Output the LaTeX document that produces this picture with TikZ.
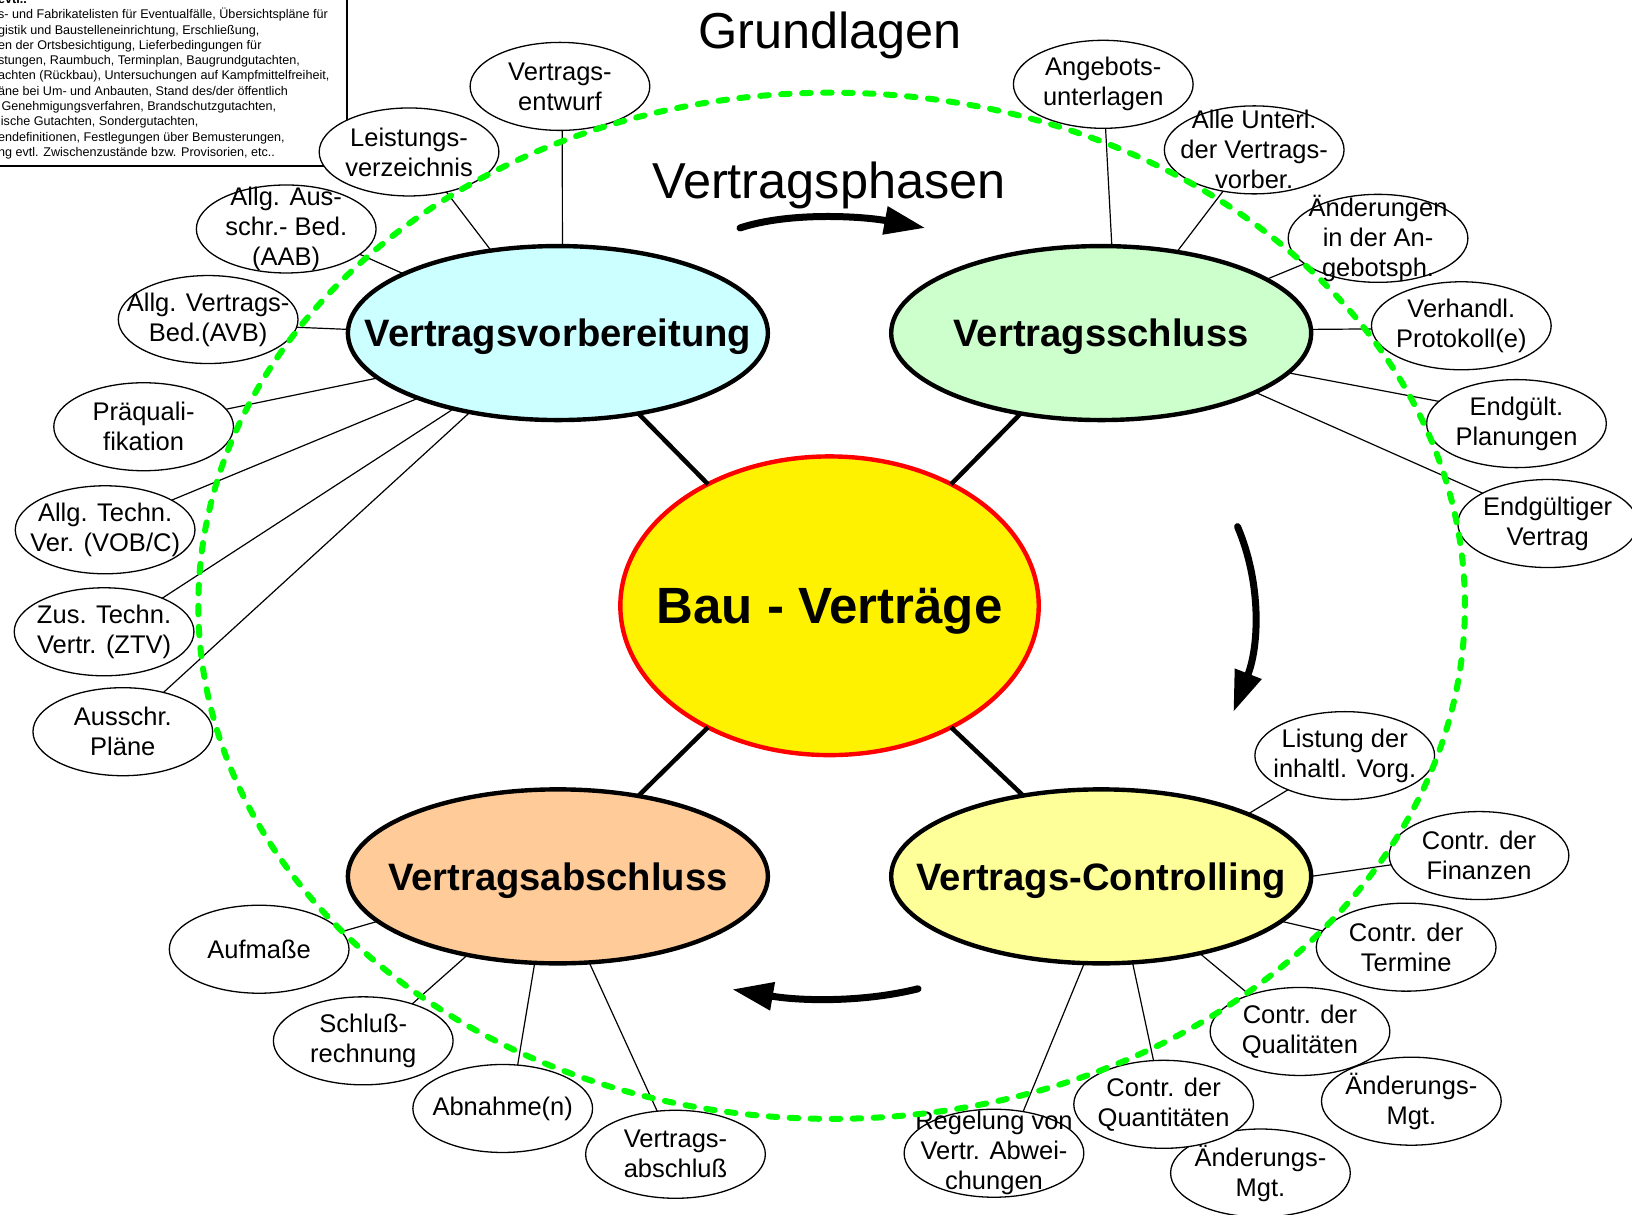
\documentclass[tikz,border=0pt]{standalone}
\usepackage{fontspec}
\setmainfont{Liberation Sans}
\usetikzlibrary{arrows.meta,shapes.geometric}
\definecolor{cvv}{HTML}{CCFFFF}
\definecolor{cvs}{HTML}{CCFFCC}
\definecolor{cva}{HTML}{FFCC99}
\definecolor{cvc}{HTML}{FFFF99}
\definecolor{ringgreen}{HTML}{00FF00}
\tikzset{
  sub/.style={ellipse, draw, fill=white, line width=1.3pt, minimum width=179.7pt, minimum height=88pt,
    inner sep=-22pt, outer sep=0pt, align=center, font=\fontsize{25.5pt}{30pt}\selectfont},
  phase/.style={ellipse, draw, line width=4.4pt, minimum width=420pt, minimum height=174pt,
    inner sep=-60pt, outer sep=0pt, text depth=0pt, font=\bfseries\fontsize{38.2pt}{44pt}\selectfont},
  core/.style={ellipse, draw=red, fill=yellow, line width=4.4pt, minimum width=418.4pt, minimum height=298.7pt,
    inner sep=-60pt, outer sep=0pt, text depth=0pt, font=\bfseries\fontsize{51pt}{60pt}\selectfont},
  link/.style={line width=1.2pt},
  spoke/.style={line width=4.5pt},
  flow/.style={line width=7pt, line cap=round, -{Triangle[length=41pt,width=27pt]}},
  dashring/.style={draw=ringgreen, line width=6pt, dash pattern=on 8.5pt off 12.5pt, line cap=round},
  title/.style={font=\fontsize{50.5pt}{60pt}\selectfont, inner sep=0pt},
  notebox/.style={anchor=north west, align=left, inner sep=0pt, font=\fontsize{12.6pt}{15.3pt}\selectfont},
}
\begin{document}
\begin{tikzpicture}[x=1.0408pt,y=-1.0408pt]
\useasboundingbox (0,0) rectangle (1568,1167);

% note box (cut by the picture edge)
\draw[line width=1.8pt, fill=white] (-20,-20) rectangle (333.5,159.5);
\node[notebox] (note) at (-2,-5.7) {\textbf{evtl..}\\
s- und Fabrikatelisten für Eventualfälle, Übersichtspläne für\\
gistik und Baustelleneinrichtung, Erschließung,\\
en der Ortsbesichtigung, Lieferbedingungen für\\
stungen, Raumbuch, Terminplan, Baugrundgutachten,\\
achten (Rückbau), Untersuchungen auf Kampfmittelfreiheit,\\
äne bei Um- und Anbauten, Stand des/der öffentlich\\
\hspace*{3.5pt}Genehmigungsverfahren, Brandschutzgutachten,\\
lische Gutachten, Sondergutachten,\\
endefinitionen, Festlegungen über Bemusterungen,\\
ng evtl. Zwischenzustände bzw. Provisorien, etc..};

% titles
\node[title, anchor=base] (grund) at (797.5,46.4) {Grundlagen};
\node[title, anchor=base] (phasen) at (796.5,190.6) {Vertragsphasen};

% main phases
\node[phase, fill=cvv] (VV) at (536,320) {Vertragsvorbereitung};
\node[phase, fill=cvs] (VS) at (1058,320) {Vertragsschluss};
\node[phase, fill=cva] (VA) at (536,842) {Vertragsabschluss};
\node[phase, fill=cvc] (VC) at (1058,842) {Vertrags-Controlling};
\node[core] (CC) at (797,582) {Bau - Verträge};

% sub items: Vertragsvorbereitung
\node[sub] (VE) at (538,83) {Vertrags-\\entwurf};
\node[sub] (LV) at (393,146) {Leistungs-\\verzeichnis};
\node[sub] (AAB) at (275,220) {Allg. Aus-\\schr.- Bed.\\(AAB)};
\node[sub] (AVB) at (200,307) {Allg. Vertrags-\\Bed.(AVB)};
\node[sub] (PQ) at (138,410) {Präquali-\\fikation};
\node[sub] (VOB) at (101,509) {Allg. Techn.\\Ver. (VOB/C)};
\node[sub] (ZTV) at (100,607) {Zus. Techn.\\Vertr. (ZTV)};
\node[sub] (AP) at (118,703) {Ausschr.\\Pläne};

% sub items: Vertragsschluss
\node[sub] (AU) at (1060,81) {Angebots-\\unterlagen};
\node[sub] (AUV) at (1205,144) {Alle Unterl.\\der Vertrags-\\vorber.};
\node[sub] (AAG) at (1324,229) {Änderungen\\in der An-\\gebotsph.};
\node[sub] (VP) at (1404,313) {Verhandl.\\Protokoll(e)};
\node[sub] (EP) at (1457,407) {Endgült.\\Planungen};
\node[sub] (EV) at (1487,503) {Endgültiger\\Vertrag};

% sub items: Vertrags-Controlling
\node[sub] (LI) at (1292,726) {Listung der\\inhaltl. Vorg.};
\node[sub] (FI) at (1421,822) {Contr. der\\Finanzen};
\node[sub] (TE) at (1351,910) {Contr. der\\Termine};
\node[sub] (AMR) at (1356,1058) {Änderungs-\\Mgt.};
\node[sub] (QL) at (1249,991) {Contr. der\\Qualitäten};
\node[sub] (AMB) at (1211,1127) {Änderungs-\\Mgt.};
\node[sub] (RG) at (955,1108) {Regelung von\\Vertr. Abwei-\\chungen};
\node[sub] (QN) at (1118,1061) {Contr. der\\Quantitäten};

% sub items: Vertragsabschluss
\node[sub] (AM) at (249,912) {Aufmaße};
\node[sub] (SR) at (349,1000) {Schluß-\\rechnung};
\node[sub] (AN) at (483,1065) {Abnahme(n)};
\node[sub] (VB) at (649,1109) {Vertrags-\\abschluß};

% thin connectors
\draw[link] (VV.87) -- (VE.-87);
\draw[link] (VV.129.5) -- (LV.-47);
\draw[link] (VV.159) -- (AAB.-19);
\draw[link] (VV.179.2) -- (AVB.-5);
\draw[link] (VV.194) -- (PQ.12);
\draw[link] (VV.205) -- (VOB.24);
\draw[link] (VV.216) -- (ZTV.30);
\draw[link] (VV.222.6) -- (AP.44);

\draw[link] (VS.83.4) -- (AU.-87);
\draw[link] (VS.47.5) -- (AUV.233);
\draw[link] (VS.18.75) -- (AAG.199.4);
\draw[link] (VS.1.1) -- (VP.182.6);
\draw[link] (VS.-12) -- (EP.164.3);
\draw[link] (VS.-21.3) -- (EV.155.2);

\draw[link] (VC.23.2) -- (LI.211.9);
\draw[link] (VC.0.8) -- (FI.186.3);
\draw[link] (VC.-14.7) -- (TE.169.4);
\draw[link] (VC.-38) -- (QL.144.1);
\draw[link] (VC.-70) -- (QN.103);
\draw[link] (VC.259.7) -- (RG.55.6);

\draw[link] (VA.194) -- (AM.12.4);
\draw[link] (VA.221.3) -- (SR.37.4);
\draw[link] (VA.255.4) -- (AN.71.6);
\draw[link] (VA.-70) -- (VB.113.8);

% thick spokes
\draw[spoke] (CC.135) -- (VV.-45.7);
\draw[spoke] (CC.45) -- (VS.225.7);
\draw[spoke] (CC.-135) -- (VA.45.7);
\draw[spoke] (CC.-45) -- (VC.134.3);

% green dashed ring
\draw[dashring] (799,582) ellipse [x radius=633.3pt, y radius=513.1pt];

% phase arrows
\coordinate (a1s) at (711,219);
\coordinate (a1e) at (889,219);
\coordinate (a2s) at (1189,506);
\coordinate (a2e) at (1185,684);
\coordinate (a3s) at (882,950);
\coordinate (a3e) at (703.5,950.5);
\draw[flow] (a1s) .. controls (760,203) and (830,208) .. (a1e);
\draw[flow] (a2s) .. controls (1212,560) and (1210,620) .. (a2e);
\draw[flow] (a3s) .. controls (830,963) and (770,962) .. (a3e);
\end{tikzpicture}
\end{document}
